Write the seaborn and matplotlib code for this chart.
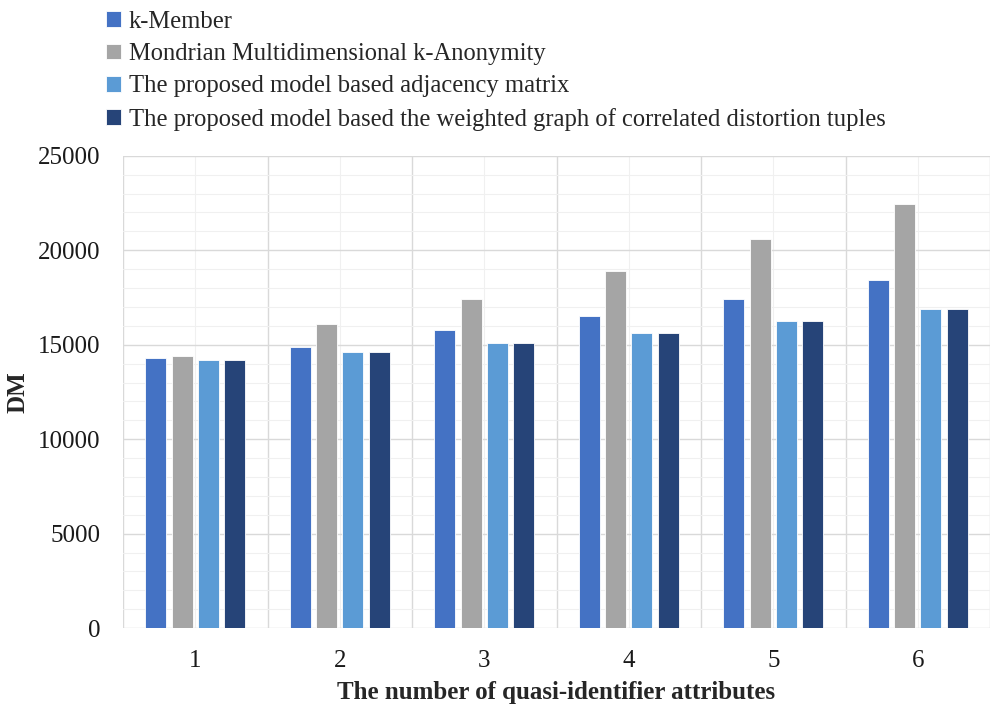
import numpy as np
import pandas as pd
import seaborn as sns
import matplotlib.pyplot as plt
from matplotlib.ticker import MultipleLocator

categories = ["1", "2", "3", "4", "5", "6"]
series = [
    "k-Member",
    "Mondrian Multidimensional k-Anonymity",
    "The proposed model based adjacency matrix",
    "The proposed model based the weighted graph of correlated distortion tuples",
]
k_member = [14300, 14900, 15800, 16500, 17400, 18450]
mondrian = [14400, 16100, 17400, 18900, 20600, 22450]
adjacency = [14200, 14600, 15100, 15600, 16250, 16900]
weighted = [14200, 14600, 15100, 15600, 16250, 16900]
colors = ["#4472C4", "#A5A5A5", "#5B9BD5", "#264478"]

df = pd.DataFrame({
    "attrs": categories * 4,
    "DM": k_member + mondrian + adjacency + weighted,
    "model": [s for s in series for _ in categories],
})

sns.set_style("white")
plt.rcParams["font.family"] = ["Liberation Serif", "DejaVu Serif"]

fig = plt.figure(figsize=(9.92, 7.05), dpi=100)
ax = fig.add_axes([0.124, 0.109, 0.874, 0.670])

sns.barplot(data=df, x="attrs", y="DM", hue="model", palette=colors,
            saturation=1, width=0.73, gap=0.2, edgecolor="white",
            linewidth=0.6, ax=ax, legend=True)

ax.set_ylim(0, 25000)
ax.set_xlim(-0.5, 5.5)
ax.yaxis.set_major_locator(MultipleLocator(5000))
ax.yaxis.set_minor_locator(MultipleLocator(1000))
ax.set_xticks(np.arange(-0.5, 6, 1), minor=True)
ax.set_axisbelow(True)
ax.grid(axis="y", which="major", color="#D9D9D9", linewidth=1.0)
ax.grid(axis="y", which="minor", color="#F0F0F0", linewidth=0.8)
ax.grid(axis="x", which="minor", color="#D9D9D9", linewidth=1.0)
ax.grid(axis="x", which="major", color="#F0F0F0", linewidth=0.8)
ax.tick_params(which="both", length=0)
ax.tick_params(axis="both", labelsize=18, colors="#1a1a1a")
ax.tick_params(axis="x", pad=16)
ax.tick_params(axis="y", pad=16)
for s in ax.spines.values():
    s.set_visible(False)

ax.set_xlabel("The number of quasi-identifier attributes", fontsize=18,
              fontweight="bold", labelpad=6)
ax.set_ylabel("DM", fontsize=18, fontweight="bold", labelpad=6)

handles, labels = ax.get_legend_handles_labels()
ax.get_legend().remove()
fig.legend(handles, labels, loc="upper left", bbox_to_anchor=(0.085, 1.016),
           frameon=False, fontsize=17.7, handlelength=0.6, handleheight=0.6,
           handletextpad=0.3, labelspacing=0.42)

fig.savefig("out.png", dpi=100)
